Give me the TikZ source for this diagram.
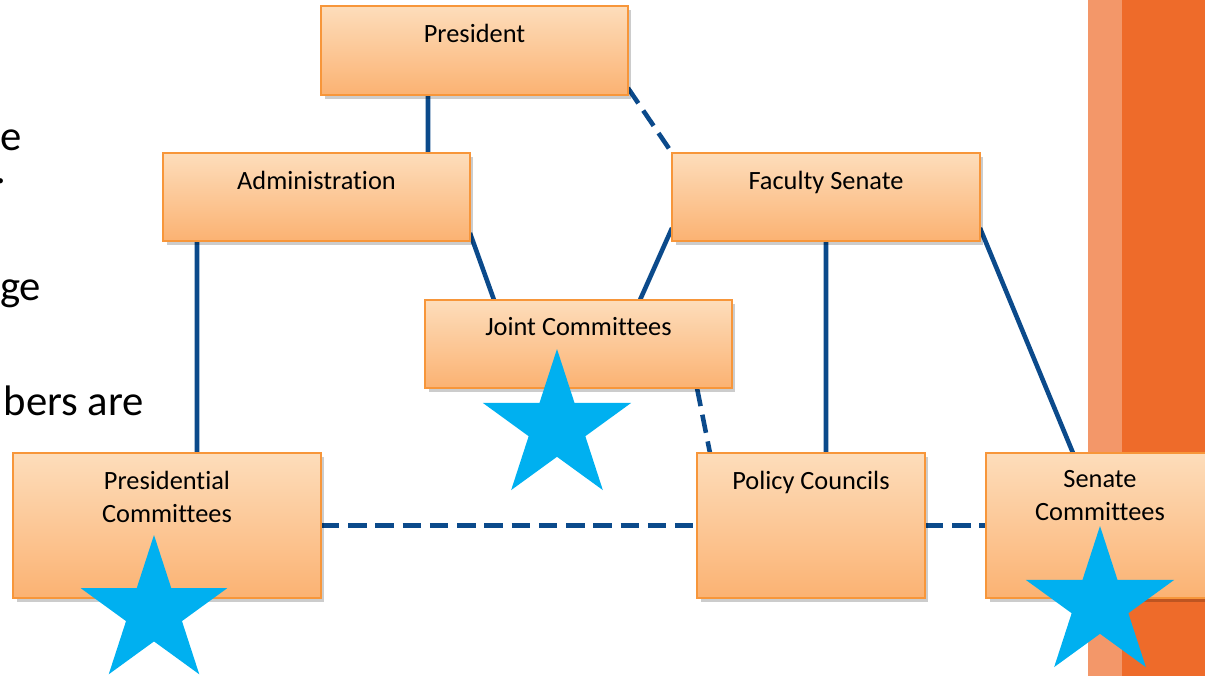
\documentclass[tikz,border=0pt]{standalone}
\usepackage{fontspec}
\setmainfont{Carlito}[Ligatures={NoCommon,NoContextual}]
\usetikzlibrary{shadows,calc}
\definecolor{linkblue}{HTML}{0B4A8B}
\definecolor{boxtop}{HTML}{FDDDBB}
\definecolor{boxbot}{HTML}{FBB272}
\definecolor{boxline}{HTML}{F7963A}
\definecolor{starblue}{HTML}{00B0F0}
\definecolor{bandorange}{HTML}{EE6B2A}
\tikzset{
  orgbox/.style={rectangle, draw=boxline, line width=1.1pt, top color=boxtop, bottom color=boxbot,
    inner sep=0pt, outer sep=0pt,
    drop shadow={shadow xshift=0.07cm, shadow yshift=-0.08cm, opacity=0.2, fill=black}},
  boxtext/.style={anchor=north, inner sep=0pt, align=center, font=\fontsize{15}{18.7}\selectfont, text=black},
  sidetext/.style={anchor=base east, inner sep=0pt, outer sep=0pt, font=\fontsize{24.3}{29}\selectfont, text=black},
  solidlink/.style={draw=linkblue, line width=2.6pt},
  dashlink/.style={draw=linkblue, line width=2.6pt, dash pattern=on 10.5pt off 5pt},
  anchorbox/.style={inner sep=0pt, outer sep=0pt},
}
\newcommand{\drawstar}[3]{%
  \fill[starblue] (#1,#2)
    +(-90:#3) -- +(-54:0.382*#3) -- +(-18:#3) -- +(18:0.382*#3) -- +(54:#3)
    -- +(90:0.382*#3) -- +(126:#3) -- +(162:0.382*#3) -- +(198:#3) -- +(234:0.382*#3) -- cycle;}
\begin{document}
\begin{tikzpicture}[x=0.02cm, y=-0.02cm]
\useasboundingbox (0,0) rectangle (1205,676);
% orange band at right
\fill[bandorange] (1122,-5) rectangle (1215,680);
\fill[bandorange, opacity=0.7] (1088,-5) rectangle (1122,680);
% left partial text
\node[sidetext] (t1) at (22,150) {e};
\node[sidetext] (t2) at (6,183) {.};
\node[sidetext] (t3) at (41,300) {ge};
\node[sidetext] (t4) at (144,415) {bers are};
% box anchors
\node[anchorbox, minimum width=6.14cm, minimum height=1.78cm] (pres) at (474.5,50.5) {};
\node[anchorbox, minimum width=6.14cm, minimum height=1.76cm] (admin) at (316.5,197) {};
\node[anchorbox, minimum width=6.16cm, minimum height=1.76cm] (fac) at (826,197) {};
\node[anchorbox, minimum width=6.14cm, minimum height=1.76cm] (joint) at (578.5,344) {};
\node[anchorbox, minimum width=6.16cm, minimum height=2.9cm] (prescom) at (167,525.5) {};
\node[anchorbox, minimum width=4.56cm, minimum height=2.9cm] (policy) at (811,525.5) {};
\node[anchorbox, minimum width=4.56cm, minimum height=2.9cm] (senate) at (1100,525.5) {};
% connectors
\draw[solidlink] ([xshift=-0.93cm]pres.south) -- ([xshift=2.23cm]admin.north);
\draw[dashlink] ([yshift=0.14cm]pres.south east) -- (fac.north west);
\draw[solidlink] ([xshift=-2.39cm]admin.south) -- ([xshift=0.6cm]prescom.north);
\draw[solidlink] ([yshift=0.16cm]admin.south east) -- ([xshift=-1.69cm]joint.north);
\draw[solidlink] ([yshift=0.26cm]fac.south west) -- ([xshift=1.23cm]joint.north);
\draw[solidlink] (fac.south) -- ([xshift=0.3cm]policy.north);
\draw[solidlink] ([yshift=0.26cm]fac.south east) -- ([xshift=-0.54cm]senate.north);
\draw[dashlink] ([xshift=-0.7cm]joint.south east) -- ([xshift=0.26cm]policy.north west);
\draw[dashlink] (prescom.east) -- (policy.west);
\draw[dashlink] (policy.east) -- (senate.west);
% boxes
\node[orgbox, minimum width=6.14cm, minimum height=1.78cm] (presb) at (pres) {};
\node[orgbox, minimum width=6.14cm, minimum height=1.76cm] (adminb) at (admin) {};
\node[orgbox, minimum width=6.16cm, minimum height=1.76cm] (facb) at (fac) {};
\node[orgbox, minimum width=6.14cm, minimum height=1.76cm] (jointb) at (joint) {};
\node[orgbox, minimum width=6.16cm, minimum height=2.9cm] (prescomb) at (prescom) {};
\node[orgbox, minimum width=4.56cm, minimum height=2.9cm] (policyb) at (policy) {};
\node[orgbox, minimum width=4.56cm, minimum height=2.9cm] (senateb) at (senate) {};
% texts
\node[boxtext] (l1) at ([yshift=-0.35cm]pres.north) {President};
\node[boxtext] (l2) at ([yshift=-0.35cm]admin.north) {Administration};
\node[boxtext] (l3) at ([yshift=-0.35cm]fac.north) {Faculty Senate};
\node[boxtext] (l4) at ([yshift=-0.35cm]joint.north) {Joint Committees};
\node[boxtext] (l5) at ([yshift=-0.35cm]prescom.north) {Presidential\\Committees};
\node[boxtext] (l6) at ([yshift=-0.35cm]policy.north) {Policy Councils};
\node[boxtext] (l7) at ([yshift=-0.35cm]senate.north) {Senate\\Committees};
% stars
\drawstar{557}{427}{78}
\drawstar{154}{612}{77}
\drawstar{1100}{604}{78}
\end{tikzpicture}
\end{document}
